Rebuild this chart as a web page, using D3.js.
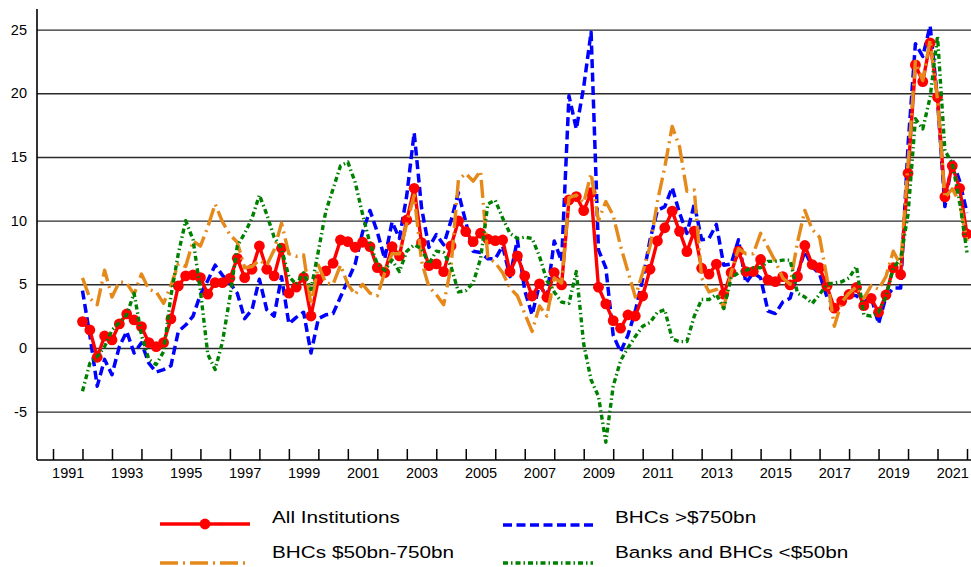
<!DOCTYPE html>
<html><head><meta charset="utf-8">
<script src="https://cdn.jsdelivr.net/npm/d3@7"></script>
<style>
html,body{margin:0;padding:0;background:#fff;}
svg{display:block;font-family:"Liberation Sans",Arial,Helvetica,sans-serif;}
</style>
</head><body>
<svg id="chart" width="971" height="567"></svg>
<script>
// ---- data (quarterly, 1991Q4 .. 2021Q4) ----
const firstQuarter = {year: 1991, q: 4};
const allInstitutions = [2.07,1.41,-0.73,0.94,0.63,1.89,2.67,2.2,1.67,0.42,0.1,0.42,2.28,4.87,5.66,5.73,5.52,4.22,5.13,5.13,5.47,7.04,5.52,6.18,8.01,6.18,5.66,7.83,4.3,4.77,5.55,2.51,5.39,6.05,6.65,8.48,8.35,7.91,8.3,7.96,6.31,5.92,7.96,7.23,10.05,12.54,8.27,6.47,6.6,5.99,8.01,9.98,9.14,8.35,9.01,8.54,8.43,8.48,5.99,7.23,5.66,4.08,5.03,3.98,5.92,4.95,11.63,11.89,10.79,12.2,4.77,3.46,2.15,1.55,2.59,2.51,4.08,6.18,8.4,9.44,10.75,9.16,7.57,9.18,6.26,5.8,6.58,4.23,5.93,7.6,6.0,6.0,6.95,5.34,5.21,5.6,4.95,5.6,8.05,6.55,6.3,4.85,3.12,3.68,4.2,4.75,3.32,3.9,2.8,4.16,6.3,5.77,13.72,22.23,20.92,23.96,19.7,11.86,14.3,12.54,8.95];
const bhcOver750 = [4.5,1.0,-3.0,-0.9,-2.1,0.1,1.3,-0.4,0.4,-1.2,-1.9,-1.7,-1.4,1.3,1.8,2.5,4.2,5.3,6.5,5.7,5.1,4.3,2.3,3.0,5.4,3.0,2.5,5.6,1.9,2.4,2.8,-0.4,2.3,2.6,2.7,4.0,5.3,6.6,9.1,10.8,9.1,7.0,9.9,8.6,12.0,16.9,11.0,7.9,8.9,8.1,10.0,12.2,9.9,7.6,7.5,7.0,7.0,8.0,5.6,8.5,4.5,2.6,5.0,4.0,8.4,6.8,19.8,17.2,20.5,24.8,7.7,6.3,1.0,-0.3,1.0,2.9,5.4,8.5,10.8,11.1,12.6,10.6,9.0,11.3,8.5,8.6,9.7,6.5,6.6,8.5,5.1,5.9,5.5,2.9,2.7,3.6,3.9,5.8,7.6,6.4,5.8,4.0,3.3,3.8,4.2,4.1,3.6,4.0,1.9,4.0,4.7,4.7,15.9,23.9,22.9,25.3,19.5,11.1,14.8,13.1,10.6];
const bhc50to750 = [5.5,3.9,3.4,6.1,4.0,5.2,5.1,4.2,5.8,4.6,4.4,3.5,4.9,6.6,6.4,8.4,8.0,9.5,11.3,9.9,8.9,8.3,6.3,6.4,6.9,6.5,7.7,9.8,7.4,7.2,7.3,3.4,6.5,5.1,5.0,6.5,5.0,4.2,5.0,4.3,4.1,5.9,7.4,7.4,9.8,12.0,6.8,4.8,4.2,3.4,6.4,13.2,13.7,13.1,13.9,7.1,6.7,5.9,4.7,4.1,2.7,1.3,3.3,2.5,5.5,5.1,11.8,12.0,11.4,13.7,10.0,11.5,10.4,8.0,6.0,4.0,5.9,8.0,11.5,14.2,17.4,15.8,12.3,12.4,5.5,4.4,4.6,3.1,5.9,7.8,7.4,7.4,9.0,7.9,6.8,5.5,5.0,8.3,10.8,9.3,8.7,5.5,1.7,3.6,4.3,4.8,3.9,4.9,4.6,5.6,7.6,6.5,14.5,22.5,21.0,24.2,19.5,11.8,12.5,11.4,8.4];
const banksUnder50 = [-3.4,-1.2,-0.7,0.1,1.4,2.0,2.6,4.3,1.0,-0.9,-1.3,-0.3,4.1,7.4,10.0,8.5,4.5,-0.5,-1.7,0.5,4.0,8.0,9.0,10.2,12.0,10.5,8.7,7.8,5.6,5.0,5.9,4.6,7.6,10.7,12.5,14.3,14.6,13.0,10.5,8.2,6.6,6.1,6.9,6.0,7.6,8.1,7.8,6.6,7.6,7.5,6.4,4.4,4.5,5.1,7.0,11.3,11.6,10.2,9.0,8.6,8.7,8.6,7.2,5.3,4.4,3.6,3.5,6.0,0.3,-2.5,-3.8,-7.4,-3.0,-1.0,0.0,0.9,1.7,2.0,2.8,3.0,0.7,0.5,0.5,2.5,3.8,3.8,4.2,3.1,5.5,5.9,6.1,6.3,6.3,6.8,6.8,6.9,6.9,4.3,4.0,3.5,4.2,5.0,5.1,5.2,5.5,6.4,2.6,2.5,2.8,4.0,6.3,7.0,10.5,18.0,17.2,19.7,24.5,15.5,14.5,11.5,7.5];
const yTicks = [-5, 0, 5, 10, 15, 20, 25];
const tickYears = d3.range(1991, 2023);          // year boundaries
const labelYears = d3.range(1991, 2022, 2);      // labelled years
const seriesNames = ["All Institutions", "BHCs >$750bn", "BHCs $50bn-750bn", "Banks and BHCs <$50bn"];

(function draw() {
  // quarter positions: end of quarter in fractional years
  const quarters = allInstitutions.map((_, i) => {
    const k = firstQuarter.q - 1 + i;
    return {year: firstQuarter.year + Math.floor(k / 4), q: (k % 4) + 1};
  });
  const qPos = quarters.map(d => d.year + d.q / 4);

  const svg = d3.select("#chart");
  const pL = 37, pR = 971, pT = 9, pB = 460;
  const pxPerYear = 914 / 31;
  const x = d3.scaleLinear().domain([1991 - 16 / pxPerYear, 2022 + 4 / pxPerYear]).range([pL, pR]);
  const y = d3.scaleLinear().domain([-8.8, 26.62]).range([pB, pT]);
  const font = '"Liberation Sans",Arial,sans-serif';

  // gridlines + y labels
  const yAxis = svg.append("g").attr("transform", `translate(${pL},0)`)
    .call(d3.axisLeft(y).tickValues(yTicks).tickSize(-(pR - pL)).tickPadding(10).tickFormat(d => String(d)));
  yAxis.select(".domain").remove();
  yAxis.selectAll(".tick line").attr("stroke", "#2a2a2a").attr("stroke-width", 1.4);
  yAxis.selectAll(".tick text").attr("font-size", 14.5).attr("fill", "#000").attr("font-family", font);

  // x ticks (upward, inside)
  const xTicks = svg.append("g").attr("transform", `translate(0,${pB})`)
    .call(d3.axisBottom(x).tickValues(tickYears).tickSize(-11).tickFormat(""));
  xTicks.select(".domain").remove();
  xTicks.selectAll(".tick line").attr("stroke", "#000").attr("stroke-width", 1.5);

  // x labels centred in the year
  const xLabels = svg.append("g").attr("transform", `translate(0,${pB})`)
    .call(d3.axisBottom(x).tickValues(labelYears.map(v => v + 0.5)).tickSize(0).tickPadding(8)
      .tickFormat(v => String(Math.floor(v))));
  xLabels.select(".domain").remove();
  xLabels.selectAll(".tick text").attr("font-size", 14.5).attr("fill", "#000").attr("font-family", font);

  // axis lines
  svg.append("line").attr("x1", pL).attr("x2", pL).attr("y1", pT).attr("y2", pB)
    .attr("stroke", "#000").attr("stroke-width", 1.6);
  svg.append("line").attr("x1", pL).attr("x2", pR).attr("y1", pB).attr("y2", pB)
    .attr("stroke", "#000").attr("stroke-width", 1.6);

  const styles = [
    {name: seriesNames[0], data: allInstitutions, color: "#ff0000", width: 3.4, dash: null, marker: true},
    {name: seriesNames[1], data: bhcOver750, color: "#0000ff", width: 3.5, dash: "9,4.5", marker: false},
    {name: seriesNames[2], data: bhc50to750, color: "#e4891a", width: 3.4, dash: "18,5,2,5", marker: false},
    {name: seriesNames[3], data: banksUnder50, color: "#008000", width: 3.4, dash: "5,3,1.5,3", marker: false}
  ];
  const line = d3.line().x((d, i) => x(qPos[i])).y(d => y(d));
  [1, 0, 2, 3].forEach(k => {
    const s = styles[k];
    svg.append("path").datum(s.data).attr("d", line)
      .attr("fill", "none").attr("stroke", s.color).attr("stroke-width", s.width)
      .attr("stroke-dasharray", s.dash).attr("stroke-linejoin", "round");
    if (s.marker) {
      svg.append("g").selectAll("circle").data(s.data).join("circle")
        .attr("cx", (d, i) => x(qPos[i])).attr("cy", d => y(d)).attr("r", 5.4)
        .attr("fill", s.color);
    }
  });

  // legend
  const legendPos = [
    {x: 160, y: 524, ty: 517},
    {x: 503, y: 525, ty: 517},
    {x: 160, y: 563, ty: 552},
    {x: 503, y: 563, ty: 552}
  ];
  styles.forEach((s, k) => {
    const p = legendPos[k];
    const g = svg.append("g");
    g.append("line").attr("x1", p.x).attr("x2", p.x + 90).attr("y1", p.y).attr("y2", p.y)
      .attr("stroke", s.color).attr("stroke-width", s.width).attr("stroke-dasharray", s.dash);
    if (s.marker) g.append("circle").attr("cx", p.x + 45).attr("cy", p.y).attr("r", 5.4).attr("fill", s.color);
    g.append("text").attr("transform", `translate(${p.x + 112},${p.ty}) scale(1.22,1)`)
      .attr("dominant-baseline", "central").attr("font-size", 17).attr("fill", "#000")
      .attr("font-family", font).text(s.name);
  });
})();
</script>
</body></html>
